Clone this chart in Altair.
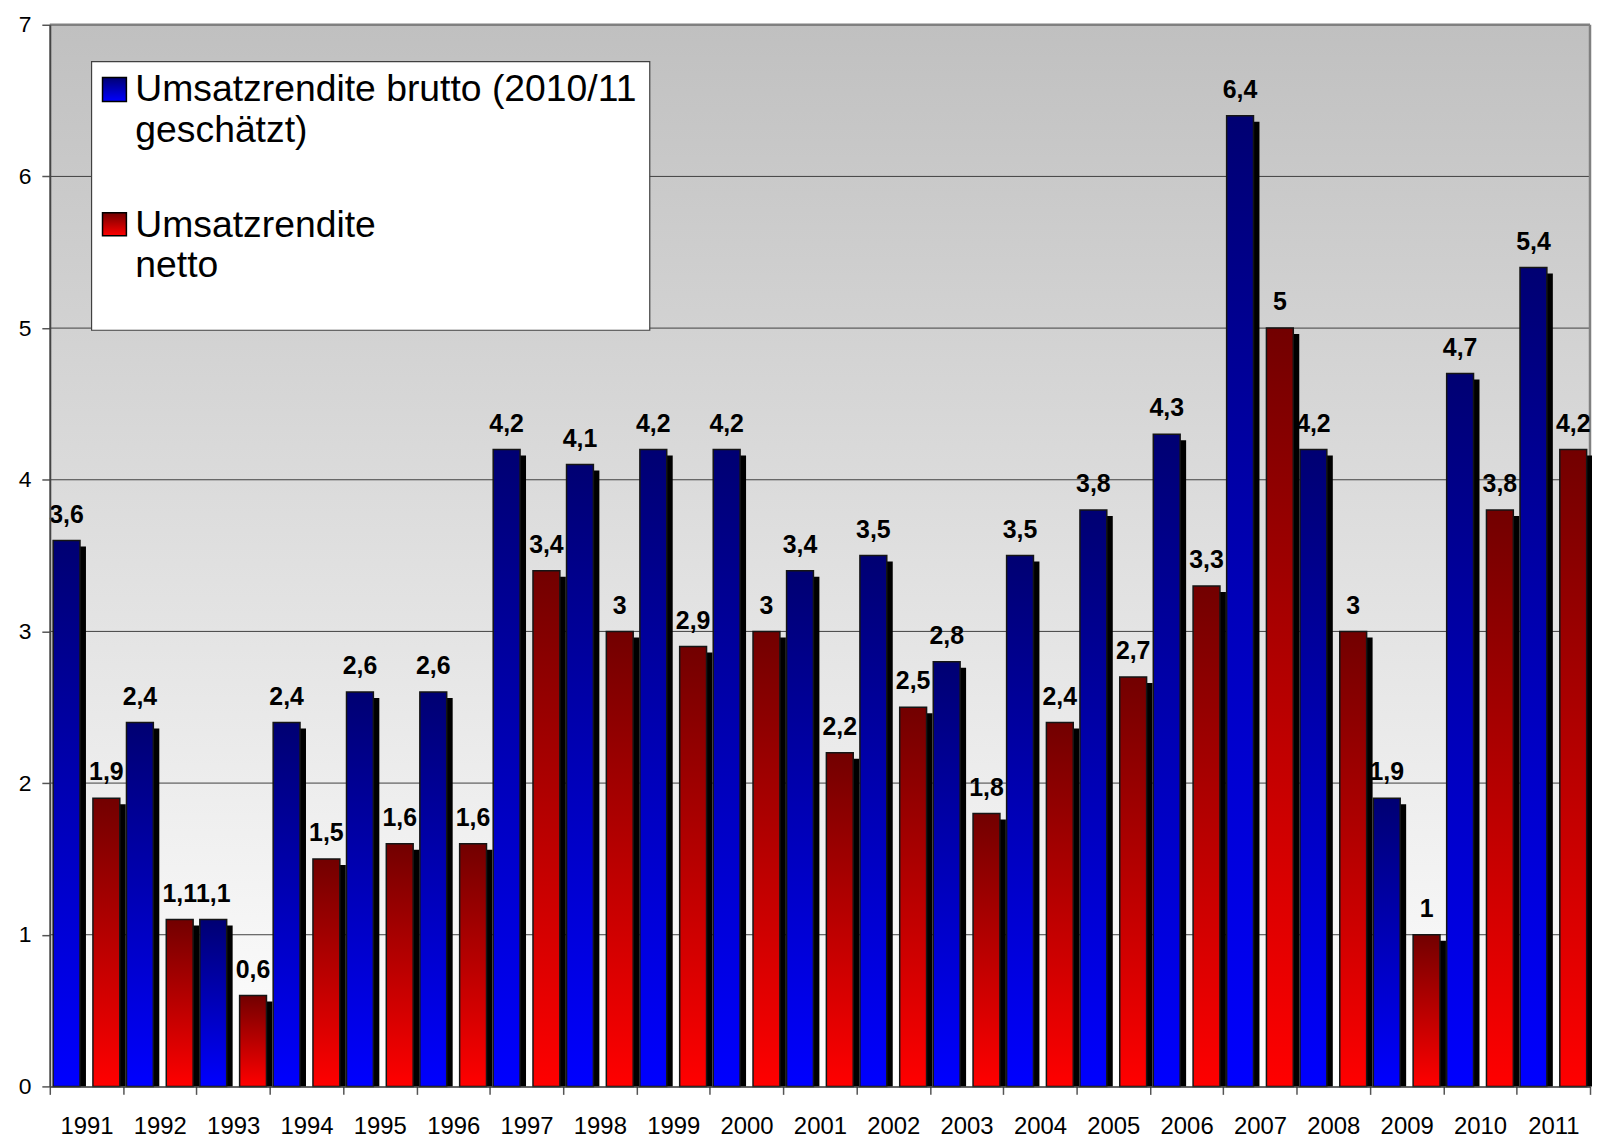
import altair as alt
import pandas as pd

years = [str(y) for y in range(1991, 2012)]
brutto = [3.6, 2.4, 1.1, 2.4, 2.6, 2.6, 4.2, 4.1, 4.2, 4.2, 3.4, 3.5, 2.8, 3.5, 3.8, 4.3, 6.4, 4.2, 1.9, 4.7, 5.4]
netto = [1.9, 1.1, 0.6, 1.5, 1.6, 1.6, 3.4, 3.0, 2.9, 3.0, 2.2, 2.5, 1.8, 2.4, 2.7, 3.3, 5.0, 3.0, 1.0, 3.8, 4.2]
series_names = ["brutto", "netto"]
legend_labels = ["Umsatzrendite brutto (2010/11\ngeschätzt)", "Umsatzrendite\nnetto"]
y_ticks = [0, 1, 2, 3, 4, 5, 6, 7]
grid_values = [1, 2, 3, 4, 5, 6]
top_value = [7]


def fmt(v):
    return f"{v:g}".replace(".", ",")


rows = []
for yr, b, n in zip(years, brutto, netto):
    rows.append({"year": yr, "series": "brutto", "value": b, "label": fmt(b)})
    rows.append({"year": yr, "series": "netto", "value": n, "label": fmt(n)})
df = pd.DataFrame(rows)

W, H = 1548, 1067
FONT = "Liberation Sans"

# bar layout inside each year band (xOffset band scale)
P_INNER, P_OUTER = 0.325, 0.084
SHADOW = 6
n_bands = len(series_names)
band_step = W / len(years)
sub_step = band_step / (n_bands - P_INNER + 2 * P_OUTER)
sub_width = sub_step * (1 - P_INNER)
sub_start = (band_step - sub_step * (n_bands - P_INNER)) / 2


def bar_frac(i):
    left = sub_start + i * sub_step
    return left / band_step, (left + sub_width) / band_step


def grad(c1, c2):
    return alt.LinearGradient(
        gradient="linear",
        stops=[alt.GradientStop(color=c1, offset=0), alt.GradientStop(color=c2, offset=1)],
        x1=0, x2=0, y1=0, y2=1,
    )


blue = grad("#000072", "#0000FF")
red = grad("#720000", "#FF0000")
bg = grad("#C0C0C0", "#FFFFFF")

x_scale = alt.Scale(paddingInner=0, paddingOuter=0)
x_axis = alt.Axis(title=None, labelAngle=0, labelFontSize=24, labelFont=FONT, labelColor="black",
                  labelPadding=20, tickSize=8, tickBand="extent", domainColor="#333333", domainWidth=1.5,
                  tickColor="#555555", tickWidth=1.5, grid=False, zindex=1)
x_enc = alt.X("year:N", sort=years, scale=x_scale, axis=x_axis)
xo_enc = alt.XOffset("series:N", scale=alt.Scale(domain=series_names, paddingInner=P_INNER, paddingOuter=P_OUTER))
y_scale = alt.Scale(domain=[0, 7], nice=False, padding=0)
y_axis = alt.Axis(title=None, values=y_ticks, format="d", labelFontSize=23, labelFont=FONT, labelColor="black",
                  labelPadding=11, tickSize=8, tickColor="#555555", tickWidth=1.5,
                  domainColor="#444444", domainWidth=2, grid=False, zindex=1)
y_enc = alt.Y("value:Q", scale=y_scale, axis=y_axis)

one = pd.DataFrame({"k": [0]})

background = alt.Chart(one).mark_rect(fill=bg).encode(
    x=alt.value(0), x2=alt.value(W), y=alt.value(0), y2=alt.value(H))

grid = alt.Chart(pd.DataFrame({"g": grid_values})).mark_rule(color="#404040", strokeWidth=1).encode(
    y=alt.Y("g:Q", scale=y_scale))
top_border = alt.Chart(pd.DataFrame({"g": top_value})).mark_rule(color="#808080", strokeWidth=2.5).encode(
    y=alt.Y("g:Q", scale=y_scale))
right_border = alt.Chart(one).mark_rule(color="#808080", strokeWidth=2.5).encode(
    x=alt.value(W), y=alt.value(0), y2=alt.value(H))

shadows = []
for i, s in enumerate(series_names):
    f0, f1 = bar_frac(i)
    shadows.append(
        alt.Chart(df).transform_filter(alt.datum.series == s).transform_calculate(base="0").mark_rect(
            color="black", xOffset=SHADOW, x2Offset=SHADOW, yOffset=SHADOW, y2Offset=0).encode(
            x=alt.X("year:N", sort=years, scale=x_scale, bandPosition=f0, axis=x_axis),
            x2=alt.X2("year:N", bandPosition=f1),
            y=y_enc,
            y2=alt.Y2("base:Q"),
        )
    )

bars_b = alt.Chart(df).transform_filter(alt.datum.series == "brutto").mark_bar(
    fill=blue, stroke="#151515", strokeWidth=1.5).encode(x=x_enc, xOffset=xo_enc, y=y_enc)
bars_n = alt.Chart(df).transform_filter(alt.datum.series == "netto").mark_bar(
    fill=red, stroke="#151515", strokeWidth=1.5).encode(x=x_enc, xOffset=xo_enc, y=y_enc)

texts = alt.Chart(df).mark_text(fontSize=25, fontWeight="bold", font=FONT, baseline="alphabetic",
                                dy=-18, color="black").encode(
    x=x_enc, xOffset=xo_enc, y=y_enc, text="label:N")

leg_box = alt.Chart(one).mark_rect(fill="white", stroke="#404040", strokeWidth=1.2).encode(
    x=alt.value(42), x2=alt.value(603), y=alt.value(37), y2=alt.value(307))
leg_sym_b = alt.Chart(one).mark_rect(fill=blue, stroke="black", strokeWidth=1.5).encode(
    x=alt.value(53), x2=alt.value(77), y=alt.value(53), y2=alt.value(77))
leg_sym_n = alt.Chart(one).mark_rect(fill=red, stroke="black", strokeWidth=1.5).encode(
    x=alt.value(53), x2=alt.value(77), y=alt.value(189), y2=alt.value(212))
leg_txt_b = alt.Chart(one).mark_text(align="left", baseline="alphabetic", fontSize=37.5, font=FONT,
                                     lineBreak="\n", lineHeight=41, color="black").encode(
    x=alt.value(86), y=alt.value(77), text=alt.value(legend_labels[0]))
leg_txt_n = alt.Chart(one).mark_text(align="left", baseline="alphabetic", fontSize=37.5, font=FONT,
                                     lineBreak="\n", lineHeight=41, color="black").encode(
    x=alt.value(86), y=alt.value(213), text=alt.value(legend_labels[1]))

chart = alt.layer(
    background, grid, top_border, right_border, *shadows, bars_b, bars_n, texts,
    leg_box, leg_sym_b, leg_sym_n, leg_txt_b, leg_txt_n
).properties(
    width=W, height=H,
    padding={"left": 42, "top": 14, "right": 2, "bottom": 50},
    autosize=alt.AutoSizeParams(type="none"),
).configure_view(
    stroke=None
)

chart.save("out.html", embed_options={"renderer": "svg", "actions": False})
